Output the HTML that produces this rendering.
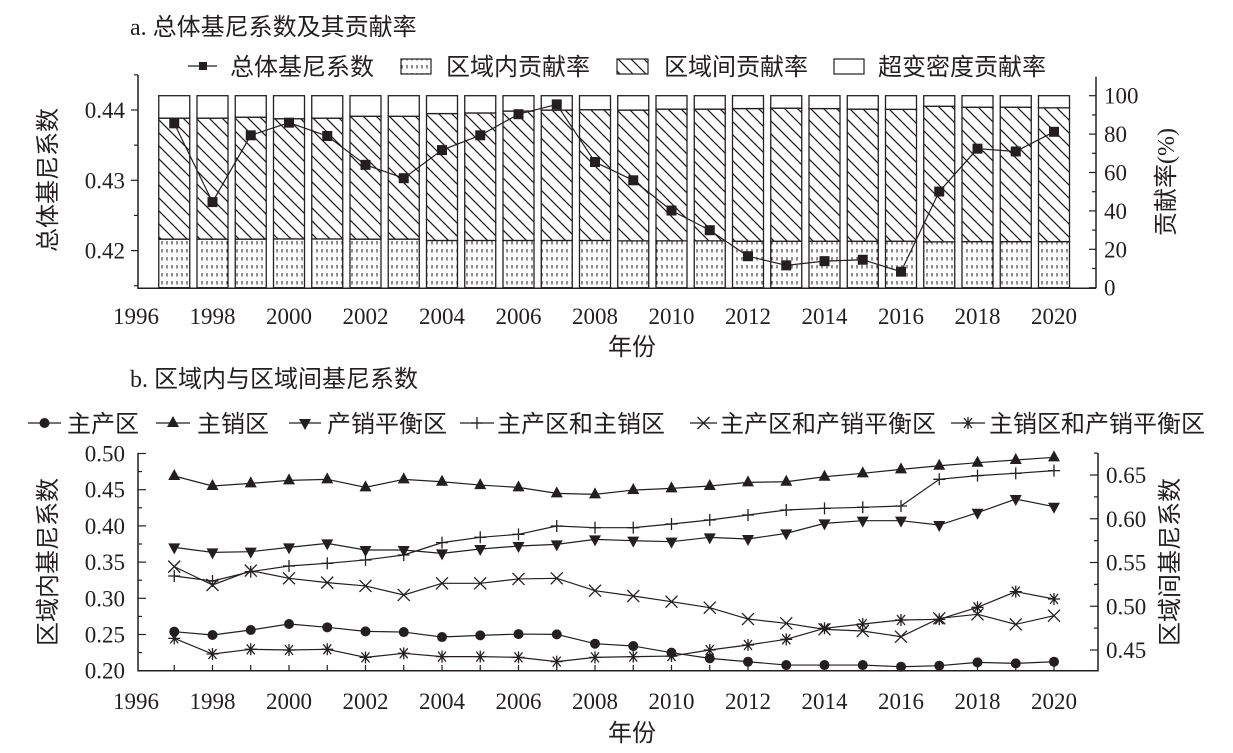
<!DOCTYPE html>
<html><head><meta charset="utf-8">
<style>
html,body{margin:0;padding:0;background:#fff;}
svg{display:block;}
text{font-family:"Liberation Serif","Noto Serif CJK SC","Noto Sans CJK SC",serif;fill:#231f20;}
.cj{font-family:"Liberation Serif","Noto Sans CJK SC",sans-serif;font-size:24px;}
.tk{font-size:23px;}
</style></head>
<body>
<svg id="chart" width="1233" height="753" viewBox="0 0 1233 753" xmlns="http://www.w3.org/2000/svg">
<defs>
<pattern id="dots" patternUnits="userSpaceOnUse" width="5" height="8">
<rect width="5" height="8" fill="#fff"/><line x1="2" y1="1" x2="2" y2="4.5" stroke="#231f20" stroke-width="1"/>
</pattern>
<pattern id="hatch" patternUnits="userSpaceOnUse" width="13" height="13">
<rect width="13" height="13" fill="#fff"/><path d="M-2,-2 L15,15 M-2,11 L2,15 M11,-2 L15,2" stroke="#231f20" stroke-width="1.3"/>
</pattern>
</defs>
<g id="a"></g>
<g id="b"></g>
</svg>
<script>
// ---------- chart a data ----------
const yearsA = [1997,1998,1999,2000,2001,2002,2003,2004,2005,2006,2007,2008,2009,2010,2011,2012,2013,2014,2015,2016,2017,2018,2019,2020];
const intraShare = [25.3,25.3,25.3,25.4,25.4,25.3,25.3,24.6,24.6,24.6,24.6,24.6,24.4,24.4,24.4,24.2,24.2,24.2,24.2,24.2,23.9,24.0,24.0,24.0];
const interShare = [63.0,63.0,63.5,62.6,62.9,64.0,64.0,66.1,66.4,67.4,67.9,68.1,68.1,68.6,68.6,69.1,69.3,69.1,68.8,68.7,70.6,70.0,70.0,69.7];
const totalGini = [0.4381,0.4269,0.4364,0.4382,0.4363,0.4322,0.4303,0.4343,0.4364,0.4394,0.4408,0.4326,0.4300,0.4257,0.4229,0.4192,0.4179,0.4185,0.4187,0.4170,0.4284,0.4345,0.4341,0.4369];
const leftTicksA = [0.42,0.43,0.44];
const rightTicksA = [0,20,40,60,80,100];
const xTickYears = [1996,1998,2000,2002,2004,2006,2008,2010,2012,2014,2016,2018,2020];
// ---------- chart b data ----------
const yearsB = yearsA;
const mainProd = [0.2539,0.2493,0.2562,0.2645,0.2599,0.2543,0.2534,0.2465,0.2488,0.2506,0.2502,0.2373,0.2341,0.2249,0.2170,0.2124,0.2078,0.2078,0.2078,0.2055,0.2069,0.2115,0.2101,0.2124];
const mainSale = [0.4689,0.4551,0.4587,0.4629,0.4643,0.4532,0.4643,0.4610,0.4564,0.4532,0.4449,0.4435,0.4495,0.4518,0.4551,0.4601,0.4610,0.4679,0.4726,0.4781,0.4831,0.4873,0.4910,0.4947];
const balance = [0.3703,0.3634,0.3644,0.3703,0.3759,0.3667,0.3667,0.3621,0.3681,0.3722,0.3745,0.3814,0.3796,0.3782,0.3842,0.3819,0.3897,0.4035,0.4072,0.4072,0.4012,0.4182,0.4371,0.4265];
const prodSale = [0.5346,0.5289,0.5395,0.5460,0.5491,0.5529,0.5586,0.5727,0.5788,0.5822,0.5917,0.5898,0.5898,0.5940,0.5986,0.6043,0.6100,0.6119,0.6131,0.6146,0.6451,0.6493,0.6519,0.6550];
const prodBal = [0.5453,0.5243,0.5407,0.5319,0.5270,0.5232,0.5129,0.5262,0.5262,0.5312,0.5319,0.5178,0.5117,0.5052,0.4984,0.4854,0.4805,0.4736,0.4717,0.4652,0.4862,0.4908,0.4793,0.4892];
const saleBal = [0.4633,0.4454,0.4508,0.4500,0.4508,0.4416,0.4462,0.4424,0.4424,0.4416,0.4367,0.4416,0.4424,0.4431,0.4500,0.4557,0.4622,0.4748,0.4797,0.4843,0.4851,0.4988,0.5167,0.5083];
const leftTicksB = [0.20,0.25,0.30,0.35,0.40,0.45,0.50];
const rightTicksB = [0.45,0.50,0.55,0.60,0.65];

const NS="http://www.w3.org/2000/svg";
const C="#231f20";
function mk(parent,tag,attrs,txt){const e=document.createElementNS(NS,tag);for(const k in attrs)e.setAttribute(k,attrs[k]);if(txt!==undefined)e.textContent=txt;parent.appendChild(e);return e;}
const xOf = y => 136 + (y-1996)*38.25;

// ================= chart a =================
const ga=document.getElementById('a');
const yA = v => 110 + (0.44 - v)/0.01*70.3;
const yR = p => 287.7 - p*1.92;
let t=mk(ga,'text',{x:130,y:35,class:'cj'},'a. 总体基尼系数及其贡献率');


yearsA.forEach((yr,i)=>{
  const cx=xOf(yr), w=31, x0=cx-w/2;
  const g=mk(ga,'g',{});
  
  
  const y0=yR(0), y1=yR(intraShare[i]), y2=yR(intraShare[i]+interShare[i]), y3=yR(100);
  let r=mk(g,'rect',{x:x0,y:y1,width:w,height:y0-y1,fill:'url(#dots)',stroke:C,'stroke-width':1.3});
  
  
  r=mk(g,'rect',{x:x0,y:y2,width:w,height:y1-y2,fill:'url(#hatch)',stroke:C,'stroke-width':1.3});
  
  
  r=mk(g,'rect',{x:x0,y:y3,width:w,height:y2-y3,fill:'#fff',stroke:C,'stroke-width':1.3});
  
  
});
let pts=yearsA.map((yr,i)=>xOf(yr)+','+yA(totalGini[i])).join(' ');
let pl=mk(ga,'polyline',{points:pts,fill:'none',stroke:C,'stroke-width':1.2});


yearsA.forEach((yr,i)=>{
  const m=mk(ga,'rect',{x:xOf(yr)-5,y:yA(totalGini[i])-5,width:10,height:10,fill:C});
  
  
});
let ax=mk(ga,'path',{d:'M138,75 L138,288.3 L1096,288.3 M1096,76.7 L1096,288.3',fill:'none',stroke:C,'stroke-width':1.5});


[0.415,0.425,0.435,0.445].forEach(v=>mk(ga,'line',{x1:134,x2:138,y1:yA(v),y2:yA(v),stroke:C,'stroke-width':1.2}));
leftTicksA.forEach(v=>{
  mk(ga,'line',{x1:131,x2:138,y1:yA(v),y2:yA(v),stroke:C,'stroke-width':1.2});
  const l=mk(ga,'text',{x:125,y:yA(v)+8,'text-anchor':'end',class:'tk'},v.toFixed(2));
  
  
});
[10,30,50,70,90].forEach(p=>mk(ga,'line',{x1:1092,x2:1096,y1:yR(p),y2:yR(p),stroke:C,'stroke-width':1.2}));
rightTicksA.forEach(p=>{
  mk(ga,'line',{x1:1089,x2:1096,y1:yR(p),y2:yR(p),stroke:C,'stroke-width':1.2});
  const l=mk(ga,'text',{x:1104,y:yR(p)+8,class:'tk'},String(p));
  
  
});
xTickYears.forEach(yr=>{
  const l=mk(ga,'text',{x:xOf(yr),y:324,'text-anchor':'middle',class:'tk'},String(yr));
  
  
});
t=mk(ga,'text',{x:632,y:355,'text-anchor':'middle',class:'cj'},'年份');


t=mk(ga,'text',{x:0,y:0,'text-anchor':'middle',class:'cj',transform:'translate(56,180) rotate(-90)'},'总体基尼系数');


t=mk(ga,'text',{x:0,y:0,'text-anchor':'middle',class:'cj',transform:'translate(1174,182) rotate(-90)'},'贡献率(%)');


const lgA=mk(ga,'g',{});


mk(lgA,'line',{x1:188,x2:217,y1:66,y2:66,stroke:C,'stroke-width':1.3});
mk(lgA,'rect',{x:199,y:62,width:8,height:8,fill:C});
mk(lgA,'text',{x:230,y:75,class:'cj'},'总体基尼系数');
mk(lgA,'rect',{x:401,y:59,width:30,height:15,fill:'url(#dots)',stroke:C,'stroke-width':1.2});
mk(lgA,'text',{x:446,y:75,class:'cj'},'区域内贡献率');
mk(lgA,'rect',{x:617,y:59,width:31,height:15,fill:'url(#hatch)',stroke:C,'stroke-width':1.2});
mk(lgA,'text',{x:664,y:75,class:'cj'},'区域间贡献率');
mk(lgA,'rect',{x:834,y:59,width:30,height:15,fill:'#fff',stroke:C,'stroke-width':1.2});
mk(lgA,'text',{x:878,y:75,class:'cj'},'超变密度贡献率');

// ================= chart b =================
const gb=document.getElementById('b');
const yL = v => 670.7 - (v-0.20)/0.05*36.2;
const yRb = v => 650 - (v-0.45)/0.05*43.75;
t=mk(gb,'text',{x:130,y:387,class:'cj'},'b. 区域内与区域间基尼系数');


ax=mk(gb,'path',{d:'M138,453 L138,670.7 L1098,670.7 L1098,453',fill:'none',stroke:C,'stroke-width':1.5});


[0.225,0.275,0.325,0.375,0.425,0.475].forEach(v=>mk(gb,'line',{x1:138,x2:142,y1:yL(v),y2:yL(v),stroke:C,'stroke-width':1.2}));
leftTicksB.forEach(v=>{
  mk(gb,'line',{x1:138,x2:146,y1:yL(v),y2:yL(v),stroke:C,'stroke-width':1.2});
  const l=mk(gb,'text',{x:125,y:yL(v)+8,'text-anchor':'end',class:'tk'},v.toFixed(2));
  
  
});
[0.425,0.475,0.525,0.575,0.625,0.675].forEach(v=>{const y=yRb(v); if(y>453&&y<670) mk(gb,'line',{x1:1094,x2:1098,y1:y,y2:y,stroke:C,'stroke-width':1.2});});
rightTicksB.forEach(v=>{
  mk(gb,'line',{x1:1090,x2:1098,y1:yRb(v),y2:yRb(v),stroke:C,'stroke-width':1.2});
  const l=mk(gb,'text',{x:1106,y:yRb(v)+8,class:'tk'},v.toFixed(2));
  
  
});
yearsB.forEach(yr=>mk(gb,'line',{x1:xOf(yr),x2:xOf(yr),y1:670.7,y2:665,stroke:C,'stroke-width':1.2}));
xTickYears.forEach(yr=>{
  const l=mk(gb,'text',{x:xOf(yr),y:709,'text-anchor':'middle',class:'tk'},String(yr));
  
  
});
t=mk(gb,'text',{x:632,y:741,'text-anchor':'middle',class:'cj'},'年份');


t=mk(gb,'text',{x:0,y:0,'text-anchor':'middle',class:'cj',transform:'translate(56,562) rotate(-90)'},'区域内基尼系数');


t=mk(gb,'text',{x:0,y:0,'text-anchor':'middle',class:'cj',transform:'translate(1178,562) rotate(-90)'},'区域间基尼系数');



function marker(g,type,x,y){
  if(type==='circle') mk(g,'circle',{cx:x,cy:y,r:5,fill:C});
  else if(type==='up') mk(g,'path',{d:`M${x},${y-7} L${x+6},${y+4} L${x-6},${y+4}Z`,fill:C});
  else if(type==='down') mk(g,'path',{d:`M${x},${y+7} L${x+6},${y-4} L${x-6},${y-4}Z`,fill:C});
  else if(type==='plus') mk(g,'path',{d:`M${x-6},${y} L${x+6},${y} M${x},${y-6} L${x},${y+6}`,stroke:C,'stroke-width':1.3});
  else if(type==='x') mk(g,'path',{d:`M${x-6},${y-6} L${x+6},${y+6} M${x-6},${y+6} L${x+6},${y-6}`,stroke:C,'stroke-width':1.3});
  else if(type==='star') mk(g,'path',{d:`M${x-6},${y} L${x+6},${y} M${x-4},${y-5} L${x+4},${y+5} M${x-4},${y+5} L${x+4},${y-5} M${x},${y-6} L${x},${y+6}`,stroke:C,'stroke-width':1.3});
}
const seriesB=[
  {name:'main-production-series',vals:mainProd,yf:yL,m:'circle'},
  {name:'main-sales-series',vals:mainSale,yf:yL,m:'up'},
  {name:'balance-series',vals:balance,yf:yL,m:'down'},
  {name:'prod-sales-series',vals:prodSale,yf:yRb,m:'plus'},
  {name:'prod-balance-series',vals:prodBal,yf:yRb,m:'x'},
  {name:'sales-balance-series',vals:saleBal,yf:yRb,m:'star'}
];
seriesB.forEach(s=>{
  const g=mk(gb,'g',{});
  
  
  mk(g,'polyline',{points:yearsB.map((yr,i)=>xOf(yr)+','+s.yf(s.vals[i])).join(' '),fill:'none',stroke:C,'stroke-width':1.2});
  yearsB.forEach((yr,i)=>marker(g,s.m,xOf(yr),s.yf(s.vals[i])));
});
const lgB=mk(gb,'g',{});


const legB=[[28,61,67,'circle','主产区'],[156,190,197,'up','主销区'],[289,321,327,'down','产销平衡区'],[460,494,497,'plus','主产区和主销区'],[690,717,720,'x','主产区和产销平衡区'],[951,985,989,'star','主销区和产销平衡区']];
legB.forEach(l=>{
  mk(lgB,'line',{x1:l[0],x2:l[1],y1:423,y2:423,stroke:C,'stroke-width':1.3});
  marker(lgB,l[3],(l[0]+l[1])/2,423);
  mk(lgB,'text',{x:l[2],y:432,class:'cj'},l[4]);
});
</script>
</body></html>
